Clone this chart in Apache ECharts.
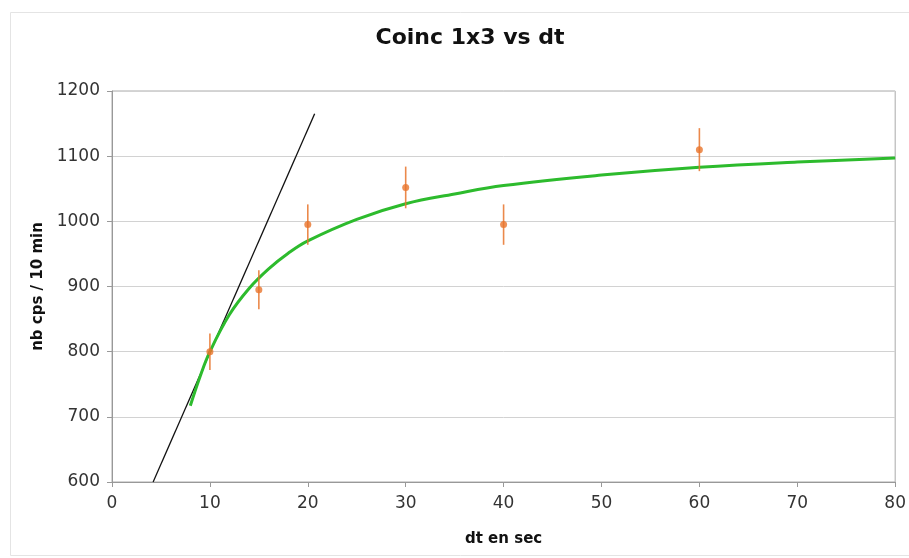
<!DOCTYPE html>
<html>
<head>
<meta charset="utf-8">
<script src="https://cdn.jsdelivr.net/npm/echarts@6/dist/echarts.min.js"></script>
<style>
  html, body { margin: 0; padding: 0; background: #fff; }
  #chart { width: 909px; height: 558px; }
</style>
</head>
<body>
<div id="chart"></div>
<script>
// Measured coincidences (1x3) per 10 min for each time window dt (s)
const dt = [10, 15, 20, 30, 40, 60];
const counts = [800, 895, 995, 1052, 995, 1110];
const errors = [28, 30, 31, 32, 31, 33];

// Saturation fit curve, sampled points
const fitX = [8, 9, 10, 12, 14, 16, 18, 20, 25, 30, 35, 40, 50, 60, 70, 80];
const fitY = [717, 762, 800, 857, 897, 927, 951, 970, 1003, 1027, 1042, 1055, 1071, 1083, 1091, 1097];

// Linear behaviour at small dt (tangent through the 10 s point)
const tangentX = [4.2, 20.7];
const tangentY = [600, 1165];

const xTicks = { min: 0, max: 80, interval: 10 };
const yTicks = { min: 600, max: 1200, interval: 100 };

const orange = '#e8742c';
const green = '#2dbb2d';
const font = 'DejaVu Sans';

const chart = echarts.init(document.getElementById('chart'), null, { renderer: 'canvas' });

chart.setOption({
  backgroundColor: '#fff',
  animation: false,
  title: {
    text: 'Coinc 1x3 vs dt',
    left: 465,
    top: 22,
    textAlign: 'center',
    textStyle: { fontFamily: font, fontSize: 22, fontWeight: 'bold', color: '#111' }
  },
  graphic: [{
    type: 'rect',
    shape: { x: 10.5, y: 12.5, width: 920, height: 543 },
    style: { fill: 'none', stroke: '#e4e4e4', lineWidth: 1 },
    silent: true
  }],
  grid: {
    left: 112, right: 12, top: 91, bottom: 76,
    show: true, borderColor: '#aaa', borderWidth: 1, backgroundColor: 'transparent'
  },
  xAxis: {
    type: 'value',
    min: xTicks.min, max: xTicks.max, interval: xTicks.interval,
    name: 'dt en sec',
    nameLocation: 'middle',
    nameGap: 50,
    nameTextStyle: { fontFamily: font, fontSize: 15, fontWeight: 'bold', color: '#111' },
    axisLine: { show: true, lineStyle: { color: '#999', width: 1 } },
    axisTick: { show: true, length: 5, lineStyle: { color: '#999' } },
    axisLabel: { fontFamily: font, fontSize: 17, color: '#333', margin: 13, formatter: v => String(v) },
    splitLine: { show: false }
  },
  yAxis: {
    type: 'value',
    min: yTicks.min, max: yTicks.max, interval: yTicks.interval,
    name: 'nb cps / 10 min',
    nameLocation: 'middle',
    nameGap: 66,
    nameRotate: 90,
    nameTextStyle: { fontFamily: font, fontSize: 15, fontWeight: 'bold', color: '#111' },
    axisLine: { show: true, lineStyle: { color: '#999', width: 1 } },
    axisTick: { show: true, length: 5, lineStyle: { color: '#999' } },
    axisLabel: { fontFamily: font, fontSize: 17, color: '#333', margin: 12, formatter: v => String(v) },
    splitLine: { show: true, lineStyle: { color: '#d2d2d2', width: 1 } }
  },
  series: [
    {
      name: 'tangent',
      type: 'line',
      data: tangentX.map((x, i) => [x, tangentY[i]]),
      symbol: 'none',
      lineStyle: { color: '#111', width: 1.3 },
      z: 2
    },
    {
      name: 'fit',
      type: 'line',
      data: fitX.map((x, i) => [x, fitY[i]]),
      symbol: 'none',
      smooth: 0.4,
      lineStyle: { color: green, width: 3 },
      z: 3
    },
    {
      name: 'errors',
      type: 'custom',
      data: dt.map((x, i) => [x, counts[i] - errors[i], counts[i] + errors[i]]),
      renderItem: function (params, api) {
        const lo = api.coord([api.value(0), api.value(1)]);
        const hi = api.coord([api.value(0), api.value(2)]);
        return {
          type: 'line',
          shape: { x1: lo[0], y1: lo[1], x2: hi[0], y2: hi[1] },
          style: { stroke: orange, lineWidth: 1.6, opacity: 0.85 }
        };
      },
      z: 4
    },
    {
      name: 'counts',
      type: 'scatter',
      data: dt.map((x, i) => [x, counts[i]]),
      symbol: 'circle',
      symbolSize: 7,
      itemStyle: { color: orange },
      z: 5
    }
  ]
});
</script>
</body>
</html>
